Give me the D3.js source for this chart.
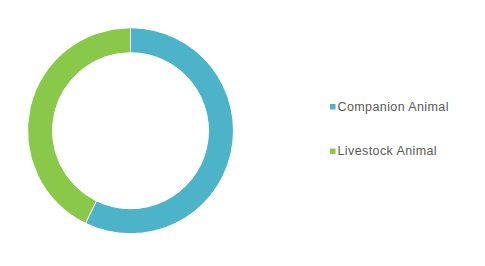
<!DOCTYPE html>
<html><head><meta charset="utf-8">
<script src="https://cdn.jsdelivr.net/npm/d3@7"></script>
<style>body{margin:0;background:#fff}</style>
</head><body>
<svg id="c" width="485" height="266"></svg>
<script>
const categories = ["Companion Animal", "Livestock Animal"];
const values = [57.2, 42.8];
const colors = ["#4DB3C8", "#8AC84A"];

const svg = d3.select("#c");
const cx = 130.5, cy = 130.7, R = 103, r = 78;
const pie = d3.pie().sort(null).value(d => d)(values);
const arc = d3.arc().innerRadius(r).outerRadius(R);
const g = svg.append("g").attr("transform", `translate(${cx},${cy})`);
g.selectAll("path").data(pie).join("path")
  .attr("d", arc).attr("fill", (d,i) => colors[i])
  .attr("stroke", "#fff").attr("stroke-width", 1);

const leg = svg.append("g");
const yPos = d3.scalePoint().domain(categories).range([110.5, 155]);
categories.forEach((c,i) => {
  const y = yPos(c);
  leg.append("rect").attr("x", 330).attr("y", y - 6.5).attr("width", 5.5).attr("height", 5.5).attr("fill", colors[i]);
  leg.append("text").attr("x", 337.5).attr("y", y).text(c)
    .attr("font-family", "Liberation Sans, Arial, sans-serif").attr("font-size", 12.5)
    .attr("letter-spacing", 0.4).attr("fill", "#595959");
});
</script>
</body></html>
